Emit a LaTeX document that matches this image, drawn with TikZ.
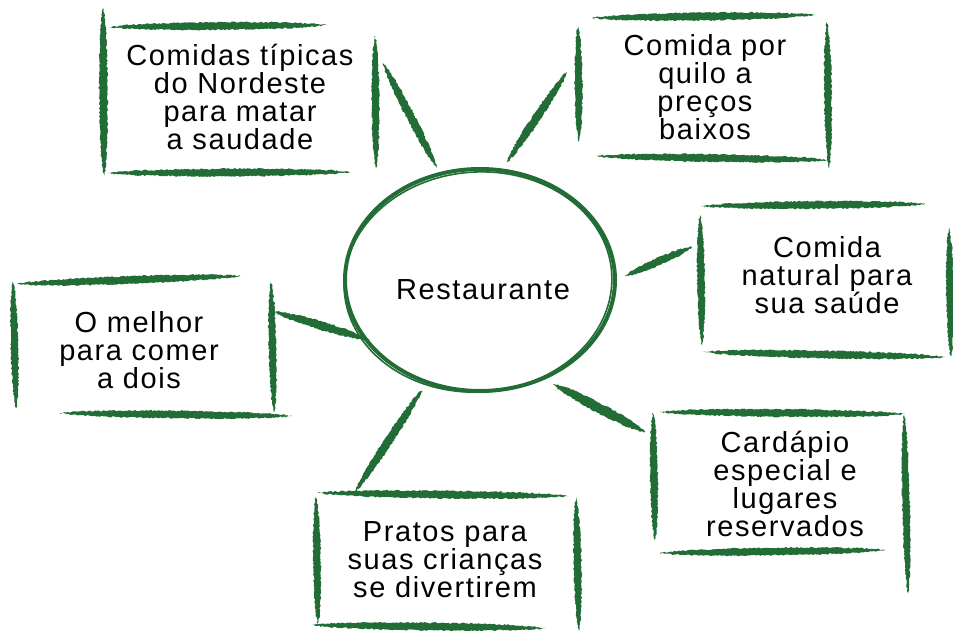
\documentclass[tikz,border=0pt]{standalone}
\usepackage{fontspec}
\setmainfont{Liberation Sans}[LetterSpace=5.5]
\usetikzlibrary{calc,shapes.geometric,decorations.pathmorphing}
\definecolor{brushgreen}{RGB}{34,108,54}
\newcommand\brushline[3]{%
  \fill[brushgreen, decorate, decoration={random steps, segment length=1.6pt, amplitude=0.7pt}]
    (#1) .. controls ($(#1)!0.12!(#2)!#3!90:(#2)$) and ($(#1)!0.88!(#2)!#3!90:(#2)$) .. (#2)
         .. controls ($(#1)!0.88!(#2)!#3!-90:(#2)$) and ($(#1)!0.12!(#2)!#3!-90:(#2)$) .. (#1) -- cycle;}
\tikzset{
  lbl/.style={align=center, font=\fontsize{29}{28}\selectfont, inner sep=0pt, text=black},
  hub/.style={draw=brushgreen, line width=4pt, ellipse, inner sep=0pt,
              minimum width=270pt, minimum height=222pt}
}
\begin{document}
\begin{tikzpicture}[x=1pt,y=-1pt]
\pgfmathsetseed{7}
\useasboundingbox (0,0) rectangle (953,630);
\fill[white] (0,0) rectangle (953,630);

% hub
\node[hub] (hub) at (480,280) {};
\draw[brushgreen, line width=1.6pt] ($(hub.center)+(-2,2)$) ellipse [x radius=134, y radius=110, rotate=4];
\node[lbl] (hubtxt) at (483,290) {Restaurante};

% texts
\node[lbl] (t1) at (240,97) {Comidas típicas\\do Nordeste\\para matar\\a saudade};
\node[lbl] (t2) at (705,87) {Comida por\\quilo a\\preços\\baixos};
\node[lbl] (t3) at (827,275) {Comida\\natural para\\sua saúde};
\node[lbl] (t4) at (139,350) {O melhor\\para comer\\a dois};
\node[lbl] (t5) at (445,560) {Pratos para\\suas crianças\\se divertirem};
\node[lbl] (t6) at (785,484) {Cardápio\\especial e\\lugares\\reservados};

% box 1
\brushline{103,8}{104,176}{5.5pt}
\brushline{110,27}{326,25}{5pt}
\brushline{375,36}{376,168}{5pt}
\brushline{108,173}{350,172}{5pt}
% box 2
\brushline{592,18}{815,15}{5pt}
\brushline{578,27}{579,142}{5pt}
\brushline{827,22}{829,168}{5pt}
\brushline{597,156}{828,160}{5pt}
% box 3
\brushline{702,206}{925,204}{5pt}
\brushline{700,215}{702,345}{5pt}
\brushline{949,228}{951,356}{5pt}
\brushline{703,352}{945,357}{5pt}
% box 4
\brushline{17,284}{240,276}{5pt}
\brushline{13,282}{16,408}{5pt}
\brushline{271,282}{274,412}{5pt}
\brushline{60,413}{292,416}{5pt}
% box 5
\brushline{317,493}{568,496}{5pt}
\brushline{316,497}{318,624}{5pt}
\brushline{576,497}{579,632}{5pt}
\brushline{312,625}{545,628}{5pt}
% box 6
\brushline{660,412}{905,414}{5pt}
\brushline{653,413}{655,540}{5pt}
\brushline{904,415}{908,593}{5pt}
\brushline{660,553}{885,550}{5pt}

% connectors
\coordinate (c1a) at (383,63);  \coordinate (c1b) at (437,168);
\coordinate (c2a) at (507,162); \coordinate (c2b) at (567,72);
\coordinate (c3a) at (625,276); \coordinate (c3b) at (692,247);
\coordinate (c4a) at (553,384); \coordinate (c4b) at (645,432);
\coordinate (c5a) at (422,390); \coordinate (c5b) at (355,492);
\coordinate (c6a) at (275,312); \coordinate (c6b) at (370,340);
\brushline{c1a}{c1b}{5.5pt}
\brushline{c2a}{c2b}{5.5pt}
\brushline{c3a}{c3b}{5pt}
\brushline{c4a}{c4b}{6.5pt}
\brushline{c5a}{c5b}{5.5pt}
\brushline{c6a}{c6b}{5.5pt}
\end{tikzpicture}
\end{document}
